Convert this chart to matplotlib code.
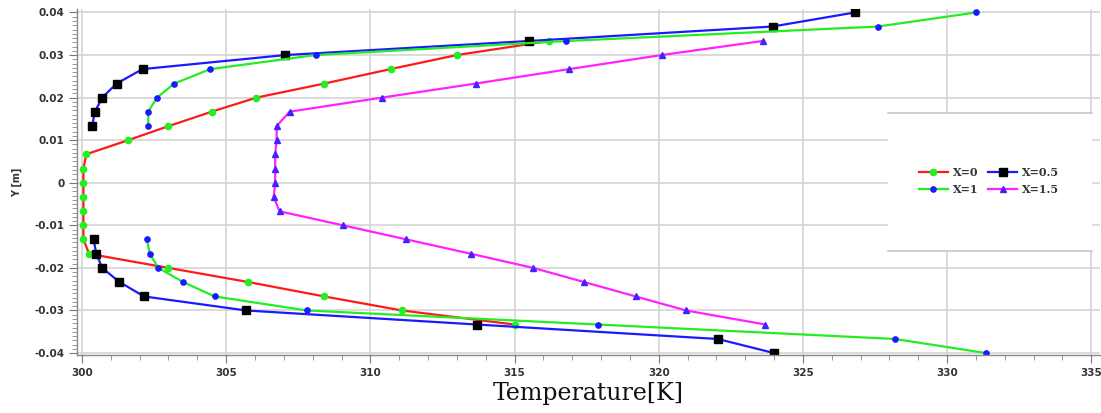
import matplotlib;matplotlib.use("Agg")
import matplotlib.pyplot as plt
import matplotlib.ticker as ticker
from matplotlib.patches import Rectangle
import numpy as np

nan = np.nan

# y positions of the nodes [m]
y_pos = [0.04, 0.0367, 0.0333, 0.03, 0.0267, 0.0233, 0.02, 0.0167, 0.0133,
         0.01, 0.0067, 0.0033, 0.0, -0.0033, -0.0067, -0.01,
         -0.0133, -0.0167, -0.02, -0.0233, -0.0267, -0.03, -0.0333, -0.0367, -0.04]

# temperatures [K] for each section (nan = no point)
t_x0 = [nan, nan, 316.2, 313.0, 310.7, 308.4, 306.05, 304.5, 303.0,
        301.6, 300.15, 300.05, 300.05, 300.05, 300.05, 300.05,
        300.05, 300.25, 303.0, 305.75, 308.4, 311.1, 315.0, nan, nan]
t_x05 = [326.8, 323.95, 315.5, 307.05, 302.1, 301.2, 300.7, 300.45, 300.35,
         nan, nan, nan, nan, nan, nan, nan,
         300.4, 300.5, 300.7, 301.3, 302.15, 305.7, 313.7, 322.05, 324.0]
t_x1 = [331.0, 327.6, 316.8, 308.1, 304.45, 303.2, 302.6, 302.3, 302.3,
        nan, nan, nan, nan, nan, nan, nan,
        302.25, 302.35, 302.65, 303.5, 304.6, 307.8, 317.9, 328.2, 331.35]
t_x15 = [nan, nan, 323.6, 320.1, 316.9, 313.65, 310.4, 307.2, 306.75,
         306.75, 306.7, 306.7, 306.7, 306.65, 306.85, 309.05,
         311.25, 313.5, 315.65, 317.4, 319.2, 320.95, 323.7, nan, nan]

labels = ['X=0', 'X=0.5', 'X=1', 'X=1.5']
x_ticks = [300, 305, 310, 315, 320, 325, 330, 335]
y_ticks = [0.04, 0.03, 0.02, 0.01, 0.0, -0.01, -0.02, -0.03, -0.04]


def fmt_y(v, pos=None):
    if abs(v) < 1e-9:
        return '0'
    return '%.2f' % v


fig = plt.figure(figsize=(11.01, 4.13), dpi=100)
ax = fig.add_axes([0.070, 0.140, 0.929, 0.837])

h0, = ax.plot(t_x0, y_pos, color='#ff1a1a', lw=1.6, marker='o', ms=4.5,
              mfc='#22ee22', mec='#22ee22', label=labels[0])
h1, = ax.plot(t_x05, y_pos, color='#1a1aff', lw=1.6, marker='s', ms=6.3,
              mfc='black', mec='black', label=labels[1])
h2, = ax.plot(t_x1, y_pos, color='#22ee22', lw=1.6, marker='o', ms=3.8,
              mfc='#1a1aff', mec='#1a1aff', label=labels[2])
h3, = ax.plot(t_x15, y_pos, color='#ff22ff', lw=1.6, marker='^', ms=4.5,
              mfc='#4422ff', mec='#4422ff', label=labels[3])

ax.set_xlim(299.83, 335.3)
ax.set_ylim(-0.0405, 0.0407)
ax.set_xticks(x_ticks)
ax.set_yticks(y_ticks)
ax.xaxis.set_minor_locator(ticker.MultipleLocator(1))
ax.yaxis.set_minor_locator(ticker.MultipleLocator(0.001))
ax.xaxis.set_major_formatter(ticker.FuncFormatter(lambda v, p: '%d' % round(v)))
ax.yaxis.set_major_formatter(ticker.FuncFormatter(fmt_y))

ax.grid(True, which='major', color='#d4d4d4', lw=1.2)
ax.set_axisbelow(True)
for s in ['top', 'right']:
    ax.spines[s].set_visible(False)
for s in ['left', 'bottom']:
    ax.spines[s].set_color('#888888')
    ax.spines[s].set_linewidth(1.0)

ax.tick_params(which='major', direction='out', length=6, width=0.8, color='#777777',
               labelsize=7.5, labelcolor='#333333', pad=3)
ax.tick_params(which='minor', direction='out', length=3.5, width=0.6, color='#888888')
for lab in ax.get_xticklabels() + ax.get_yticklabels():
    lab.set_fontweight('bold')

ax.set_xlabel('Temperature[K]', family='DejaVu Serif', fontsize=17, color='#111111',
              labelpad=3)
ax.set_ylabel('Y [m]', fontsize=7, fontweight='bold', color='#333333', labelpad=9)

# legend panel: white box with gray lines at top and bottom only
x0, x1, yb, yt = 0.793, 0.992, 0.302, 0.701
ax.add_patch(Rectangle((x0, yb), x1 - x0, yt - yb, transform=ax.transAxes,
                       facecolor='white', edgecolor='none', zorder=2.5))
ax.plot([x0, x1], [yt, yt], transform=ax.transAxes, color='#c8c8c8', lw=1.2, zorder=2.6)
ax.plot([x0, x1], [yb, yb], transform=ax.transAxes, color='#c8c8c8', lw=1.2, zorder=2.6)

leg = ax.legend([h0, h2, h1, h3], [labels[0], labels[2], labels[1], labels[3]],
                ncol=2, loc='center', bbox_to_anchor=(0.8915, 0.5036),
                frameon=False, handlelength=2.6, handletextpad=0.45,
                columnspacing=0.9, labelspacing=0.5,
                prop={'family': 'DejaVu Serif', 'weight': 'bold', 'size': 8})
leg.set_zorder(3)
for t in leg.get_texts():
    t.set_color('#333333')

plt.savefig('out.png', dpi=100)
